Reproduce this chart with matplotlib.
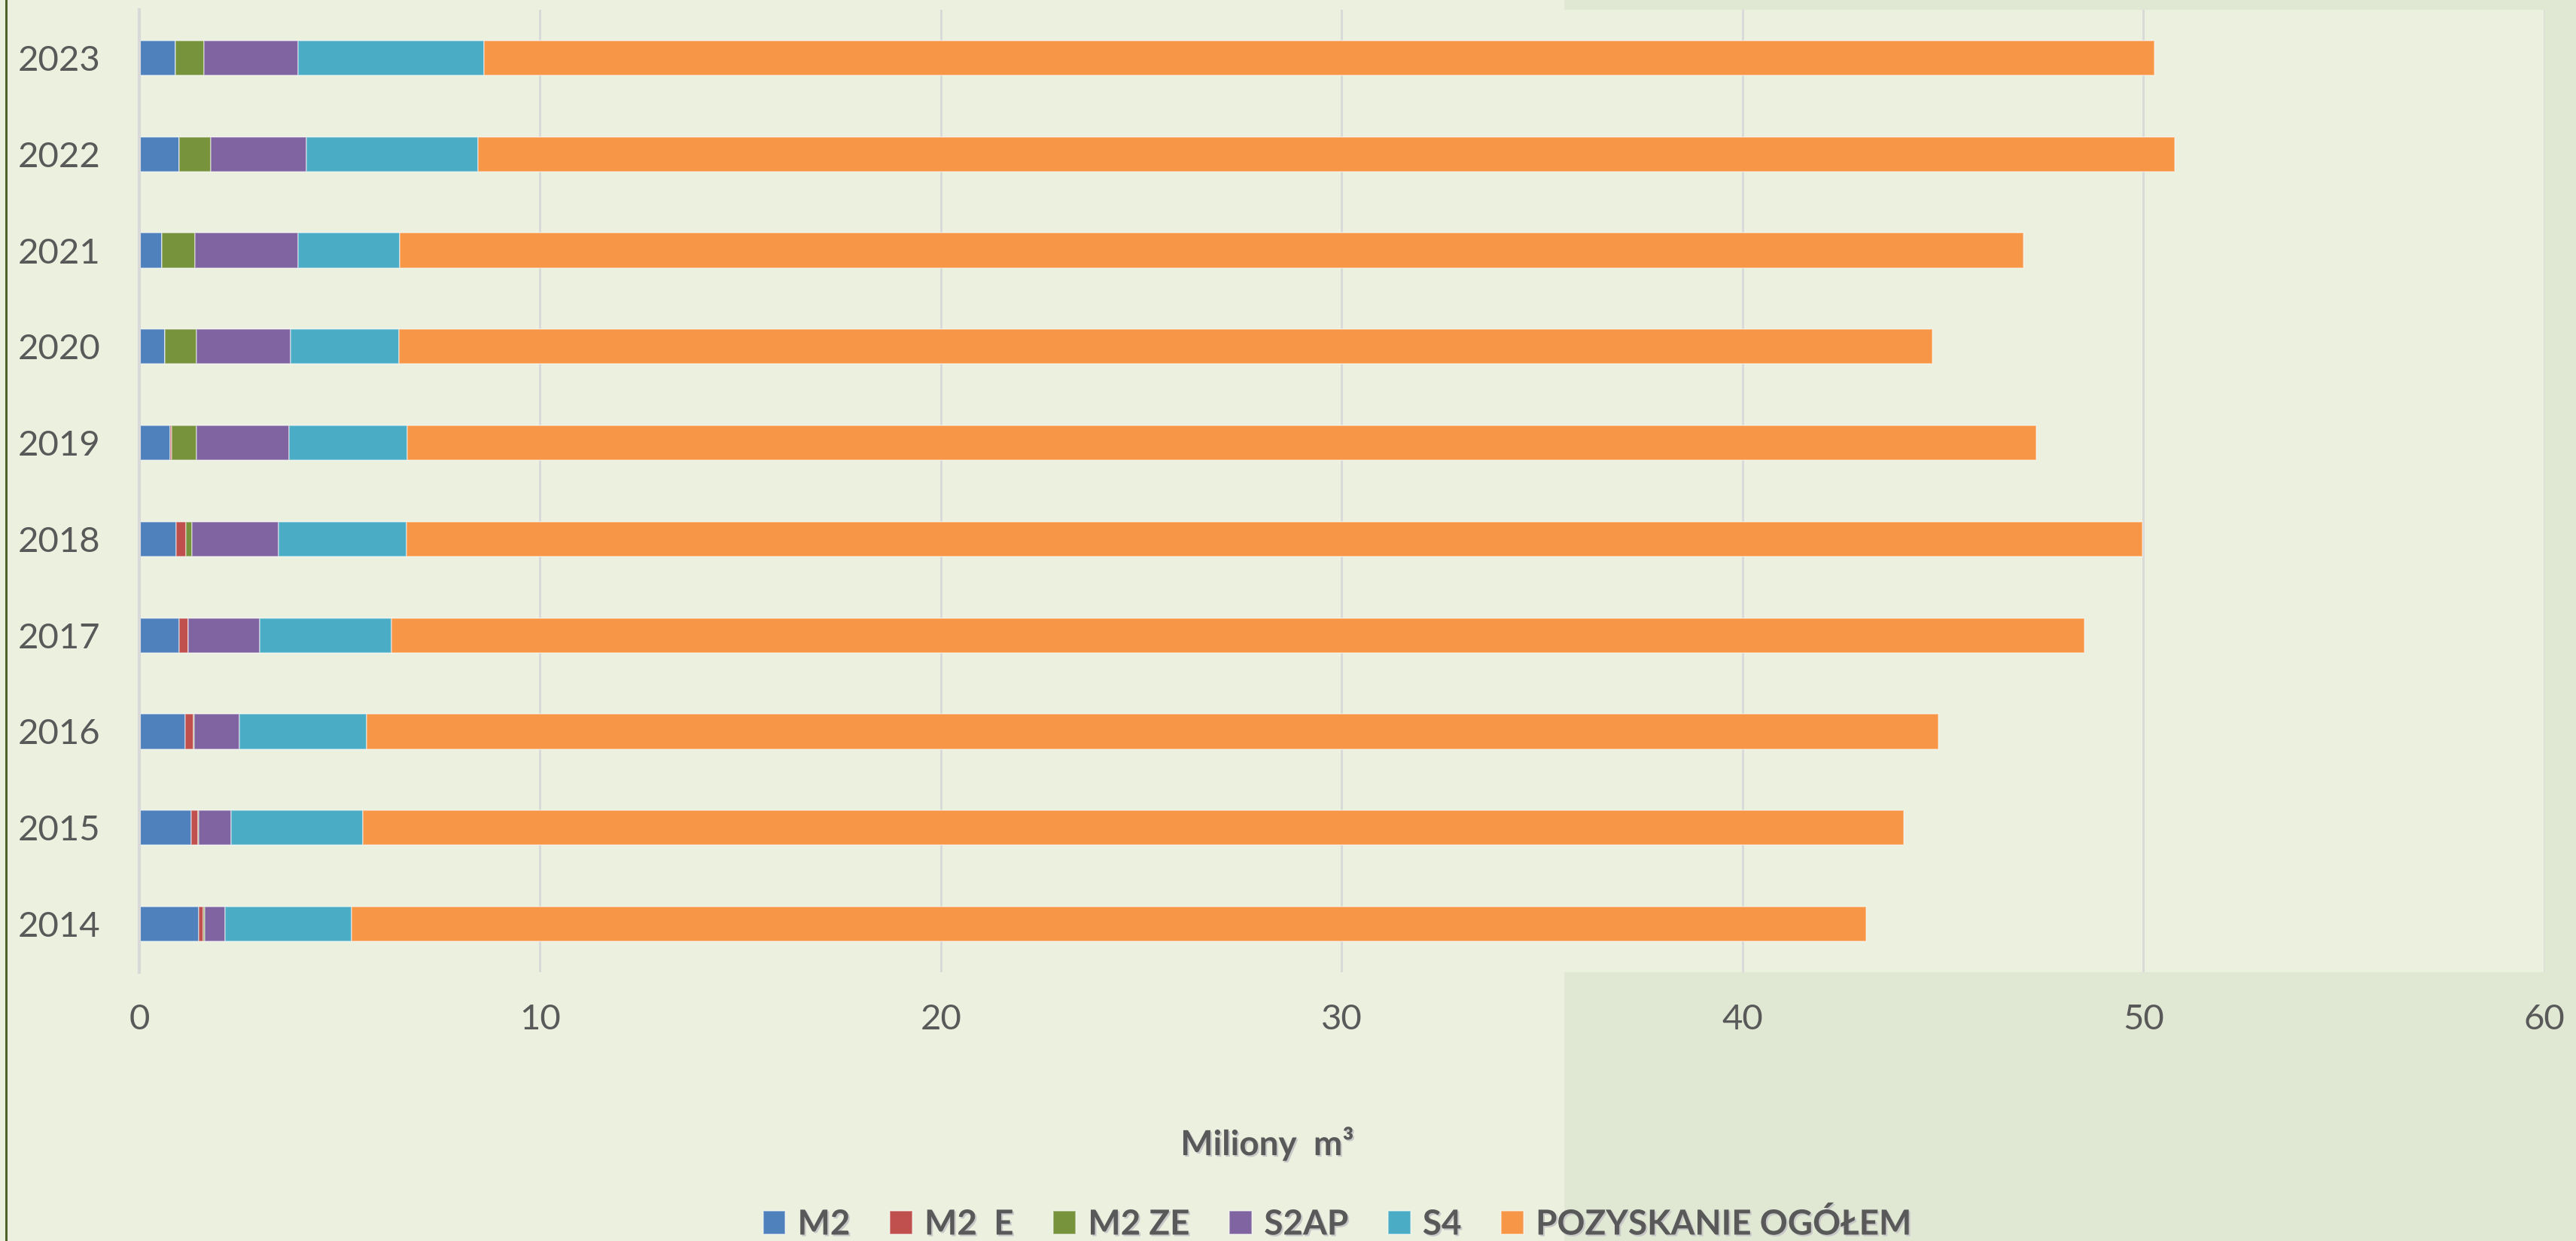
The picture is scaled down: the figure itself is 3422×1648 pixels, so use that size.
import matplotlib
matplotlib.use("Agg")
import matplotlib.pyplot as plt
import matplotlib.patheffects as pe
from matplotlib.patches import Rectangle
import numpy as np

# data (milions m3)
years = ["2014", "2015", "2016", "2017", "2018", "2019", "2020", "2021", "2022", "2023"]
m2 = [1.48, 1.30, 1.14, 1.00, 0.92, 0.77, 0.64, 0.56, 0.99, 0.90]
m2_e = [0.11, 0.17, 0.22, 0.22, 0.24, 0.03, 0.0, 0.0, 0.0, 0.0]
m2_ze = [0.05, 0.02, 0.01, 0.01, 0.16, 0.63, 0.78, 0.83, 0.79, 0.71]
s2ap = [0.50, 0.81, 1.12, 1.78, 2.15, 2.31, 2.36, 2.57, 2.39, 2.35]
s4 = [3.16, 3.27, 3.19, 3.29, 3.19, 2.95, 2.70, 2.54, 4.29, 4.65]
ogolem = [37.78, 38.44, 39.20, 42.23, 43.31, 40.64, 38.25, 40.50, 42.32, 41.67]

labels = ["M2", "M2  E", "M2 ZE", "S2AP", "S4", "POZYSKANIE OGÓŁEM"]
colors = ["#4F81BD", "#C0504D", "#77933C", "#8064A2", "#4BACC6", "#F79646"]
series = [m2, m2_e, m2_ze, s2ap, s4, ogolem]

plt.rcParams["font.family"] = ["Lato", "DejaVu Sans"]
txt = "#595959"
light = "#EBF0DF"
dark = "#E0E8D4"

W, H = 3423, 1648
fig = plt.figure(figsize=(W / 100, H / 100), dpi=100, facecolor=light)

# darker right part of the background + left frame line
fig.patches.append(Rectangle((2078 / W, 0), 1, 1, transform=fig.transFigure,
                             facecolor=dark, edgecolor="none", zorder=-5))
fig.patches.append(Rectangle((7 / W, 0), 3 / W, 1, transform=fig.transFigure,
                             facecolor="#4F6228", edgecolor="none", zorder=-4))

ax = fig.add_axes([185 / W, 1 - 1291 / H, (3380 - 185) / W, (1291 - 13) / H])
ax.set_facecolor(light)

y = np.arange(len(years))
left = np.zeros(len(years))
handles = []
for vals, lab, col in zip(series, labels, colors):
    b = ax.barh(y, vals, left=left, height=0.36, color=col,
                edgecolor=(1, 1, 1, 0.45), linewidth=1.2, label=lab)
    handles.append(b)
    left += np.array(vals)

ax.set_xlim(0, 60)
ax.set_ylim(-0.5, len(years) - 0.5)
ax.set_xticks(np.arange(0, 61, 10))
ax.set_yticks(y)
ax.set_yticklabels(years)
ax.tick_params(axis="both", length=0, labelsize=34, labelcolor=txt)
ax.tick_params(axis="y", pad=37)
ax.tick_params(axis="x", pad=30)
ax.set_axisbelow(True)
ax.xaxis.grid(True, color="#D9D9D9", linewidth=2)
for s in ["top", "right", "bottom"]:
    ax.spines[s].set_visible(False)
ax.spines["left"].set_color("#D9D9D9")
ax.spines["left"].set_linewidth(3)

shadow = [pe.withSimplePatchShadow(offset=(1.5, -1.5), shadow_rgbFace="#C8C8C8", alpha=1)]

ax.set_xlabel("Miliony  m³", fontsize=33, fontweight="bold", color=txt,
              va="center", path_effects=shadow)
ax.xaxis.set_label_coords(0.469, -0.178)

leg = fig.legend(handles=handles, loc="center", bbox_to_anchor=(1777 / W, 1 - 1626 / H),
                 ncol=6, frameon=False, fontsize=33, handlelength=0.65, handleheight=0.65,
                 handletextpad=0.35, columnspacing=1.15, borderpad=0)
for t in leg.get_texts():
    t.set_color(txt)
    t.set_fontweight("bold")
    t.set_path_effects(shadow)

fig.savefig("out.png", dpi=100, facecolor=light)
